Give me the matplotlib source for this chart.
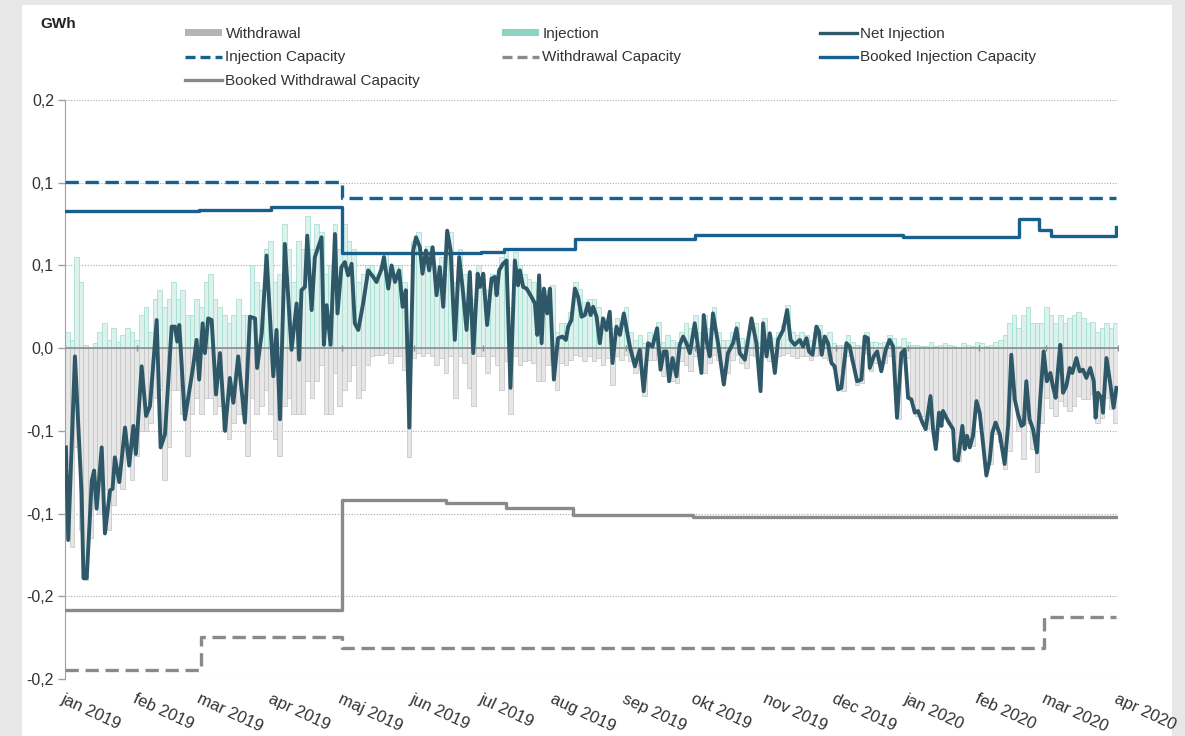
import numpy as np
import pandas as pd
import matplotlib
matplotlib.use("Agg")
import matplotlib.pyplot as plt
from matplotlib.patches import Rectangle, Patch
from matplotlib.lines import Line2D

plt.rcParams["font.family"] = ["Liberation Sans", "DejaVu Sans"]

start = pd.Timestamp("2019-01-01")

# net injection: (day since 1 jan 2019, GWh)
net_injection = [
    (0.4, -0.060), (1.4, -0.116), (4.3, -0.005), (7.2, -0.088), (8.0, -0.139), (9.4, -0.139),
    (11.6, -0.080), (12.6, -0.074), (13.7, -0.097), (15.9, -0.060), (17.3, -0.112), (19.5, -0.086),
    (20.6, -0.085), (21.6, -0.066), (23.5, -0.081), (26.0, -0.048), (27.8, -0.071), (29.6, -0.047),
    (30.7, -0.064), (33.2, -0.011), (35.1, -0.041), (36.8, -0.035), (39.7, 0.017), (41.4, -0.060),
    (43.3, -0.052), (46.2, 0.013), (47.6, 0.013), (48.6, 0.004), (49.5, 0.014), (51.9, -0.043),
    (55.5, -0.011), (57.0, 0.005), (58.1, -0.019), (59.6, 0.015), (60.6, -0.003), (62.0, 0.018),
    (63.5, 0.017), (65.4, -0.028), (67.1, -0.003), (69.3, -0.050), (71.4, -0.018), (72.9, -0.033),
    (75.0, -0.005), (77.9, -0.045), (80.1, 0.019), (82.3, 0.018), (83.2, -0.012), (85.2, 0.009),
    (87.3, 0.056), (88.7, 0.021), (90.2, -0.017), (91.6, 0.011), (93.1, -0.043), (95.2, 0.063),
    (98.1, -0.001), (100.3, 0.027), (101.4, -0.007), (102.4, 0.035), (103.9, 0.037), (104.9, 0.068),
    (106.8, 0.023), (108.2, 0.055), (111.1, 0.067), (112.1, 0.002), (113.3, 0.026), (115.0, 0.002),
    (116.9, 0.069), (118.0, 0.021), (119.7, 0.049), (121.2, 0.052), (122.6, 0.044), (124.1, 0.051),
    (125.5, 0.015), (127.0, 0.011), (129.1, 0.027), (131.3, 0.047), (133.5, 0.043), (134.9, 0.040),
    (137.1, 0.048), (138.1, 0.055), (140.0, 0.036), (141.4, 0.050), (142.9, 0.040), (144.7, 0.047),
    (146.2, 0.025), (147.6, 0.035), (149.1, -0.048), (150.8, 0.059), (152.0, 0.067), (153.7, 0.061),
    (154.8, 0.045), (156.3, 0.059), (157.7, 0.047), (159.2, 0.061), (160.9, 0.032), (162.3, 0.049),
    (163.8, 0.025), (165.5, 0.071), (167.0, 0.059), (168.8, 0.005), (170.7, 0.055), (172.2, 0.036),
    (173.9, 0.011), (175.3, 0.046), (176.8, -0.003), (178.7, 0.045), (179.7, 0.037), (181.1, 0.045),
    (182.8, 0.014), (184.7, 0.042), (186.1, 0.043), (186.9, 0.032), (188.0, 0.047), (189.7, 0.051),
    (191.2, 0.053), (192.9, -0.024), (194.8, 0.053), (196.2, 0.038), (197.0, 0.047), (198.4, 0.037),
    (199.9, 0.036), (202.0, 0.031), (203.5, 0.027), (204.5, 0.008), (205.3, 0.044), (206.4, 0.003),
    (207.4, 0.036), (208.8, 0.021), (210.0, 0.036), (211.7, -0.019), (213.5, 0.006), (215.4, 0.007),
    (216.9, 0.005), (217.9, 0.013), (219.3, 0.017), (220.8, 0.036), (222.2, 0.031), (223.7, 0.019),
    (225.1, 0.020), (226.5, 0.027), (227.6, 0.020), (228.7, 0.025), (230.2, 0.019), (231.6, 0.003),
    (233.0, 0.018), (234.5, 0.011), (235.9, 0.022), (237.1, -0.009), (238.8, 0.013), (240.3, 0.008),
    (242.0, 0.021), (244.6, 0.001), (246.8, -0.011), (248.9, -0.001), (250.6, -0.026), (252.5, 0.003),
    (254.4, 0.001), (256.4, 0.012), (257.9, -0.013), (259.3, -0.002), (260.5, -0.002), (261.6, -0.020),
    (263.1, -0.006), (264.8, -0.017), (266.2, 0.002), (267.7, 0.007), (269.1, 0.003), (270.6, -0.003),
    (272.7, 0.015), (274.2, 0.000), (275.6, -0.015), (276.6, 0.020), (278.0, 0.003), (279.2, -0.005),
    (280.6, 0.021), (282.8, 0.003), (285.3, -0.022), (287.1, -0.003), (289.3, 0.003), (290.8, 0.012),
    (292.2, -0.003), (294.4, -0.007), (297.3, 0.018), (299.4, 0.003), (301.2, -0.026), (302.3, 0.015),
    (303.8, -0.005), (305.2, 0.009), (307.4, -0.015), (308.8, 0.005), (311.0, 0.011), (312.7, 0.023),
    (314.2, 0.005), (316.0, 0.002), (318.2, 0.005), (319.6, 0.001), (321.1, 0.006), (322.2, -0.002),
    (323.7, -0.004), (325.4, 0.013), (326.5, 0.010), (327.7, -0.004), (329.0, 0.007), (330.4, 0.003),
    (331.9, -0.009), (333.3, -0.011), (334.8, -0.025), (336.2, -0.024), (338.4, 0.003), (339.8, 0.001),
    (341.3, -0.009), (343.0, -0.020), (344.9, -0.019), (346.3, 0.007), (347.7, 0.006), (348.5, -0.012),
    (350.2, -0.005), (351.7, -0.002), (353.5, -0.014), (355.4, -0.001), (357.1, 0.005), (358.6, 0.001),
    (360.3, -0.042), (362.2, -0.003), (363.6, -0.001), (365.1, -0.030), (366.5, -0.031), (368.0, -0.039),
    (369.4, -0.038), (371.3, -0.045), (372.7, -0.049), (374.8, -0.029), (375.9, -0.049), (377.1, -0.061),
    (378.5, -0.039), (379.5, -0.047), (380.2, -0.038), (382.4, -0.044), (384.6, -0.049), (385.3, -0.067),
    (386.7, -0.068), (388.6, -0.047), (389.6, -0.061), (390.6, -0.053), (391.8, -0.060), (393.2, -0.053),
    (394.7, -0.032), (396.1, -0.039), (397.5, -0.057), (399.0, -0.077), (400.4, -0.068), (401.6, -0.051),
    (403.0, -0.045), (404.8, -0.052), (406.9, -0.070), (408.4, -0.047), (409.8, -0.004), (411.3, -0.031),
    (412.7, -0.040), (414.2, -0.047), (415.2, -0.046), (416.3, -0.020), (417.7, -0.043), (419.2, -0.049),
    (420.9, -0.063), (422.4, -0.029), (423.8, -0.002), (425.2, -0.020), (426.7, -0.015), (427.8, -0.023),
    (429.0, -0.030), (430.0, -0.013), (431.0, 0.002), (432.2, -0.027), (433.6, -0.023), (435.1, -0.012),
    (436.2, -0.015), (438.0, -0.006), (439.4, -0.014), (440.8, -0.013), (442.3, -0.018), (444.0, -0.012),
    (445.5, -0.020), (446.3, -0.042), (447.3, -0.027), (448.8, -0.030), (449.5, -0.039), (451.0, -0.006),
    (452.4, -0.019), (454.1, -0.036), (455.3, -0.024),
]

# daily bars, read every second day
withdrawal = [
    -0.070, -0.120, -0.060, -0.110, -0.140, -0.115, -0.080, -0.100, -0.085, -0.110,
    -0.095, -0.075, -0.085, -0.060, -0.080, -0.065, -0.050, -0.050, -0.045, -0.030,
    -0.025, -0.080, -0.060, -0.025, -0.025, -0.040, -0.065, -0.040, -0.030, -0.040,
    -0.030, -0.030, -0.040, -0.035, -0.050, -0.055, -0.045, -0.040, -0.040, -0.065,
    -0.030, -0.040, -0.035, -0.025, -0.040, -0.055, -0.065, -0.035, -0.030, -0.040,
    -0.040, -0.040, -0.020, -0.030, -0.020, -0.010, -0.040, -0.040, -0.015, -0.035,
    -0.025, -0.020, -0.010, -0.030, -0.025, -0.010, -0.005, -0.004, -0.004, -0.003,
    -0.009, -0.005, -0.005, -0.013, -0.066, -0.006, -0.003, -0.005, -0.003, -0.005,
    -0.010, -0.006, -0.015, -0.005, -0.030, -0.005, -0.009, -0.024, -0.035, -0.005,
    -0.005, -0.015, -0.005, -0.010, -0.025, -0.008, -0.040, -0.005, -0.010, -0.008,
    -0.007, -0.009, -0.020, -0.020, -0.010, -0.008, -0.025, -0.009, -0.010, -0.007,
    -0.004, -0.005, -0.008, -0.005, -0.008, -0.006, -0.010, -0.006, -0.022, -0.005,
    -0.007, -0.004, -0.008, -0.015, -0.010, -0.029, -0.007, -0.007, -0.004, -0.017,
    -0.010, -0.020, -0.021, -0.008, -0.010, -0.014, -0.005, -0.010, -0.015, -0.009,
    -0.004, -0.007, -0.020, -0.015, -0.007, -0.004, -0.009, -0.012, -0.004, -0.005,
    -0.019, -0.003, -0.008, -0.011, -0.005, -0.004, -0.003, -0.005, -0.006, -0.005,
    -0.005, -0.007, -0.005, -0.004, -0.006, -0.007, -0.012, -0.022, -0.026, -0.005,
    -0.008, -0.022, -0.021, -0.003, -0.014, -0.009, -0.011, -0.009, -0.005, -0.005,
    -0.043, -0.009, -0.006, -0.032, -0.041, -0.041, -0.049, -0.034, -0.056, -0.047,
    -0.043, -0.046, -0.051, -0.068, -0.053, -0.059, -0.059, -0.039, -0.048, -0.071,
    -0.070, -0.052, -0.057, -0.073, -0.062, -0.030, -0.050, -0.067, -0.045, -0.061,
    -0.075, -0.045, -0.030, -0.036, -0.041, -0.032, -0.035, -0.038, -0.035, -0.029,
    -0.031, -0.031, -0.028, -0.045, -0.042, -0.030, -0.037, -0.045,
]
injection = [
    0.010, 0.005, 0.055, 0.040, 0.002, 0.000, 0.003, 0.010, 0.015, 0.005,
    0.012, 0.004, 0.008, 0.012, 0.010, 0.005, 0.020, 0.025, 0.010, 0.030,
    0.035, 0.025, 0.030, 0.040, 0.030, 0.035, 0.020, 0.020, 0.030, 0.025,
    0.040, 0.045, 0.030, 0.025, 0.020, 0.015, 0.020, 0.030, 0.020, 0.020,
    0.050, 0.040, 0.035, 0.060, 0.065, 0.040, 0.045, 0.075, 0.060, 0.040,
    0.065, 0.060, 0.080, 0.060, 0.075, 0.070, 0.045, 0.050, 0.075, 0.060,
    0.075, 0.065, 0.060, 0.040, 0.045, 0.050, 0.050, 0.045, 0.050, 0.058,
    0.045, 0.050, 0.050, 0.040, 0.010, 0.065, 0.070, 0.055, 0.062, 0.060,
    0.050, 0.055, 0.045, 0.070, 0.040, 0.060, 0.045, 0.035, 0.030, 0.050,
    0.045, 0.035, 0.045, 0.045, 0.055, 0.060, 0.025, 0.058, 0.050, 0.045,
    0.042, 0.040, 0.035, 0.030, 0.035, 0.038, 0.010, 0.015, 0.015, 0.022,
    0.040, 0.036, 0.028, 0.030, 0.030, 0.025, 0.015, 0.018, 0.012, 0.018,
    0.015, 0.025, 0.010, 0.005, 0.008, 0.003, 0.010, 0.008, 0.016, 0.004,
    0.008, 0.005, 0.004, 0.010, 0.015, 0.012, 0.020, 0.010, 0.020, 0.012,
    0.025, 0.010, 0.005, 0.005, 0.010, 0.016, 0.006, 0.005, 0.016, 0.015,
    0.004, 0.018, 0.008, 0.006, 0.010, 0.014, 0.026, 0.010, 0.008, 0.010,
    0.008, 0.005, 0.010, 0.014, 0.008, 0.010, 0.003, 0.002, 0.002, 0.008,
    0.004, 0.002, 0.002, 0.010, 0.004, 0.004, 0.003, 0.004, 0.008, 0.006,
    0.001, 0.006, 0.004, 0.002, 0.002, 0.001, 0.001, 0.004, 0.001, 0.002,
    0.003, 0.002, 0.001, 0.000, 0.003, 0.002, 0.001, 0.004, 0.003, 0.001,
    0.002, 0.004, 0.005, 0.008, 0.015, 0.020, 0.012, 0.020, 0.025, 0.015,
    0.015, 0.015, 0.025, 0.020, 0.015, 0.020, 0.015, 0.018, 0.020, 0.022,
    0.018, 0.015, 0.016, 0.010, 0.012, 0.015, 0.012, 0.015,
]

# capacities as steps: (first day, value)
inj_cap_days = [0, 120]
inj_cap = [0.1005, 0.0905]
booked_inj_days = [0, 58, 89, 120, 180, 190, 221, 273, 363, 413, 422, 427, 455]
booked_inj = [0.0828, 0.0833, 0.0854, 0.0574, 0.0582, 0.0602, 0.0657, 0.0683,
              0.0673, 0.0783, 0.0713, 0.0677, 0.0733]
wd_cap_days = [0, 59, 120, 424]
wd_cap = [-0.1945, -0.1746, -0.1812, -0.1625]
booked_wd_days = [0, 120, 165, 191, 220, 272]
booked_wd = [-0.158, -0.0918, -0.0937, -0.0966, -0.1009, -0.1018]
last_day = 455.3

month_labels = ["jan 2019", "feb 2019", "mar 2019", "apr 2019", "maj 2019", "jun 2019",
                "jul 2019", "aug 2019", "sep 2019", "okt 2019", "nov 2019", "dec 2019",
                "jan 2020", "feb 2020", "mar 2020", "apr 2020"]
y_ticks = [-0.2, -0.15, -0.1, -0.05, 0.0, 0.05, 0.1, 0.15]
y_labels = ["-0,2", "-0,2", "-0,1", "-0,1", "0,0", "0,1", "0,1", "0,2"]

NET = "#2e5868"
BLUE = "#175f8c"
GREY = "#8a8a8a"


def to_date(days):
    return start + pd.to_timedelta(np.asarray(days, dtype=float), unit="D")


def step_xy(days, vals):
    x = list(days) + [last_day]
    y = list(vals) + [vals[-1]]
    return to_date(x), y


fig = plt.figure(figsize=(11.85, 7.36), dpi=100)
fig.patch.set_facecolor("#e7e7e7")
fig.add_artist(Rectangle((22 / 1185, 0), 1150 / 1185, 731 / 736, transform=fig.transFigure,
                         facecolor="white", edgecolor="none", zorder=-10))
ax = fig.add_axes([65 / 1185, 1 - 679 / 736, 1053 / 1185, 579 / 736])
ax.set_facecolor("white")

bar_x = to_date(np.arange(len(withdrawal)) * 2)
ax.bar(bar_x, withdrawal, width=2, align="edge", color="#e6e6e6", edgecolor="#c2c2c2",
       linewidth=0.5, zorder=1)
ax.bar(bar_x, injection, width=2, align="edge", color="#dbf2ed", edgecolor="#9edbcd",
       linewidth=0.5, zorder=1)

ax.axhline(0, color="#8c8c8c", lw=1.2, zorder=2)
months = pd.date_range("2019-01-01", "2020-04-01", freq="MS")
ax.plot(months, np.zeros(len(months)), ls="none", marker="|", ms=4, color="#8c8c8c", zorder=2)

x, y = step_xy(booked_wd_days, booked_wd)
ax.step(x, y, where="post", color=GREY, lw=2.4, zorder=3)
x, y = step_xy(wd_cap_days, wd_cap)
ax.step(x, y, where="post", color=GREY, lw=2.4, ls=(0, (4, 2)), zorder=3)
x, y = step_xy(booked_inj_days, booked_inj)
ax.step(x, y, where="post", color=BLUE, lw=2.4, zorder=3)
x, y = step_xy(inj_cap_days, inj_cap)
ax.step(x, y, where="post", color=BLUE, lw=2.4, ls=(0, (4, 2)), zorder=3)

nd, nv = zip(*net_injection)
ax.plot(to_date(nd), nv, color=NET, lw=2.8, zorder=4, solid_joinstyle="round")

ax.set_xlim(start, start + pd.Timedelta(days=456))
ax.set_ylim(-0.2, 0.15)
ax.set_yticks(y_ticks)
ax.set_yticklabels(y_labels)
ax.set_xticks(months)
ax.set_xticklabels(month_labels, rotation=-25, ha="left", va="top", rotation_mode="anchor")
ax.tick_params(axis="x", length=0, pad=9, labelsize=12, labelcolor="#333333")
ax.tick_params(axis="y", length=5, width=1, color="#a0a0a0", pad=3, labelsize=11.5,
               labelcolor="#333333")
for y0 in y_ticks:
    if y0 != 0:
        ax.axhline(y0, color="#a8a8a8", lw=0.8, ls=(0, (1, 1.5)), zorder=0)
for side in ["top", "right", "bottom"]:
    ax.spines[side].set_visible(False)
ax.spines["left"].set_color("#a0a0a0")

fig.text(40 / 1185, 1 - 28 / 736, "GWh", fontsize=11, fontweight="bold", va="baseline",
         color="#222222")

lw_leg = 2.4
cols = [
    [(Patch(facecolor="#b5b5b5", edgecolor="none"), "Withdrawal"),
     (Line2D([], [], color=BLUE, lw=lw_leg, ls=(0, (3, 1.5))), "Injection Capacity"),
     (Line2D([], [], color=GREY, lw=lw_leg), "Booked Withdrawal Capacity")],
    [(Patch(facecolor="#8ed4c5", edgecolor="none"), "Injection"),
     (Line2D([], [], color=GREY, lw=lw_leg, ls=(0, (3, 1.5))), "Withdrawal Capacity")],
    [(Line2D([], [], color=NET, lw=lw_leg), "Net Injection"),
     (Line2D([], [], color=BLUE, lw=lw_leg), "Booked Injection Capacity")],
]
col_x = [185, 502, 820]
for cx, items in zip(col_x, cols):
    h, l = zip(*items)
    fig.legend(h, l, loc="upper left", bbox_to_anchor=(cx / 1185, 1 - 27 / 736),
               frameon=False, fontsize=11, handlelength=2.4, handleheight=0.4,
               handletextpad=0.25, labelspacing=0.61, borderpad=0, borderaxespad=0,
               labelcolor="#333333")

fig.savefig("out.png", dpi=100, facecolor=fig.get_facecolor())
